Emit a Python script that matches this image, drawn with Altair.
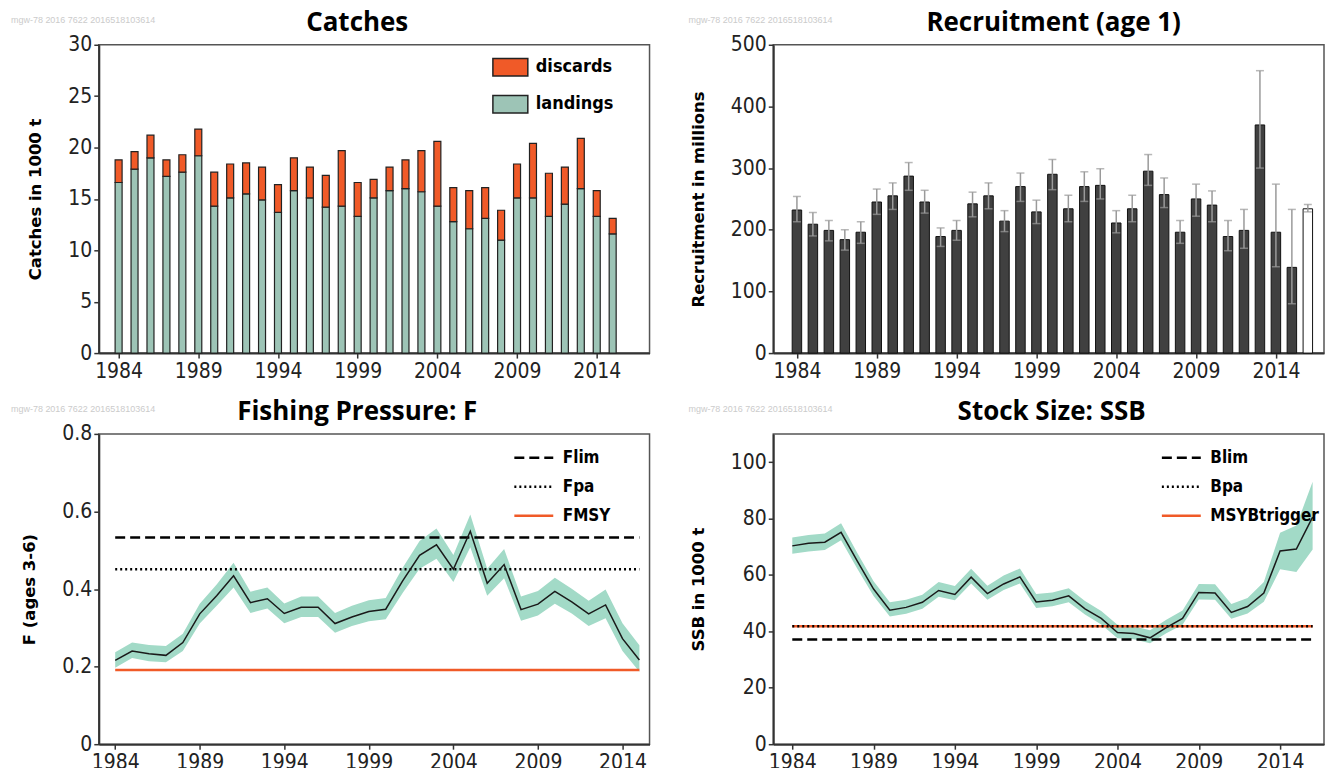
import altair as alt
import pandas as pd

# ---------------- data ----------------
YEARS_C = list(range(1984, 2016))
LANDINGS = [16.6, 17.9, 19.0, 17.2, 17.6, 19.2, 14.3, 15.1, 15.5, 14.9, 13.7, 15.8,
            15.1, 14.2, 14.3, 13.3, 15.1, 15.8, 16.0, 15.7, 14.3, 12.8, 12.1, 13.1,
            11.0, 15.1, 15.1, 13.3, 14.5, 16.0, 13.3, 11.6]
DISCARDS = [2.2, 1.7, 2.2, 1.6, 1.7, 2.6, 3.3, 3.3, 3.0, 3.2, 2.7, 3.2,
            3.0, 3.1, 5.4, 3.3, 1.8, 2.3, 2.8, 4.0, 6.3, 3.3, 3.7, 3.0,
            2.9, 3.3, 5.3, 4.2, 3.6, 4.9, 2.5, 1.5]

YEARS_R = list(range(1984, 2017))
REC = [232, 209, 199, 184, 196, 245, 255, 287, 245, 189, 199, 242, 255, 214, 270, 229,
       290, 234, 270, 272, 211, 234, 295, 257, 196, 250, 240, 189, 199, 370, 196, 139, 234]
REC_HI = [254, 228, 215, 200, 213, 266, 276, 309, 264, 203, 215, 261, 276, 231, 292, 248,
          314, 256, 294, 299, 231, 256, 322, 284, 215, 274, 263, 215, 233, 458, 274, 233, 241]
REC_LO = [213, 190, 182, 167, 178, 225, 233, 264, 227, 173, 183, 221, 234, 197, 246, 210,
          265, 213, 246, 250, 195, 213, 272, 236, 178, 222, 213, 166, 170, 300, 140, 80, 229]
REC_KIND = ["assessment"] * 32 + ["assumed"]

YEARS_F = list(range(1984, 2016))
F = [0.216, 0.240, 0.233, 0.229, 0.262, 0.336, 0.383, 0.434, 0.365, 0.375, 0.337, 0.353,
     0.353, 0.311, 0.328, 0.342, 0.348, 0.421, 0.487, 0.514, 0.451, 0.549, 0.415, 0.463,
     0.347, 0.361, 0.394, 0.367, 0.336, 0.359, 0.272, 0.217]
F_LO = [0.197, 0.222, 0.214, 0.211, 0.240, 0.311, 0.357, 0.404, 0.338, 0.350, 0.312, 0.328,
        0.328, 0.287, 0.305, 0.317, 0.322, 0.390, 0.452, 0.478, 0.418, 0.508, 0.383, 0.428,
        0.318, 0.332, 0.362, 0.337, 0.305, 0.325, 0.240, 0.187]
F_HI = [0.237, 0.262, 0.256, 0.253, 0.285, 0.362, 0.412, 0.468, 0.393, 0.404, 0.363, 0.381,
        0.381, 0.338, 0.357, 0.371, 0.377, 0.455, 0.524, 0.556, 0.488, 0.592, 0.452, 0.503,
        0.381, 0.395, 0.429, 0.401, 0.370, 0.399, 0.312, 0.255]

YEARS_S = list(range(1984, 2017))
SSB = [70.3, 71.2, 71.6, 75.1, 64.9, 55.0, 47.5, 48.5, 50.3, 54.5, 53.1, 59.2, 53.4, 56.8,
       59.3, 50.4, 51.0, 52.6, 48.0, 44.6, 39.6, 39.2, 37.7, 41.3, 44.6, 53.8, 53.6, 46.7,
       48.8, 53.6, 68.5, 69.2, 80.5]
SSB_LO = [67.5, 68.3, 68.8, 72.3, 62.2, 52.5, 45.3, 46.2, 48.0, 52.3, 51.0, 57.0, 51.2, 54.7,
          57.0, 48.3, 48.9, 50.3, 46.0, 42.4, 37.6, 37.2, 35.8, 39.3, 42.3, 51.3, 51.2, 44.5,
          46.3, 50.5, 62.0, 61.0, 69.0]
SSB_HI = [73.3, 74.2, 74.7, 78.3, 67.8, 57.8, 50.3, 51.2, 53.0, 57.5, 56.1, 62.2, 56.2, 59.8,
          62.3, 53.2, 53.8, 55.3, 50.8, 47.2, 42.3, 41.8, 40.4, 44.1, 47.4, 56.8, 56.7, 49.7,
          51.8, 57.5, 75.0, 77.5, 93.0]

F_REFS = ["Flim", "Fpa", "FMSY"]
F_REF_VALUES = [0.533, 0.451, 0.191]
B_REFS = ["Blim", "Bpa", "MSYBtrigger"]
B_REF_VALUES = [37.1, 41.8, 41.8]

XTICKS = [1984, 1989, 1994, 1999, 2004, 2009, 2014]
WATERMARK = "mgw-78  2016  7622  2016518103614"

# ---------------- styles ----------------
NARROW = "Liberation Sans Narrow, Arial Narrow, DejaVu Sans Condensed, sans-serif"
TITLE_FONT = "Open Sans"
ORANGE = "#f05a28"
TEAL = "#9dc4b6"
BAND = "#a2dac7"
DARK = "#404040"
W, H_TOP, H_BOT = 552, 309, 311


def xaxis():
    return alt.Axis(values=XTICKS, format="d", labelFlush=False)


def panel_title(text, dx):
    return alt.TitleParams(text=text, font=TITLE_FONT, fontSize=26, fontWeight="bold",
                           color="black", anchor="middle", dx=dx, offset=-20)


def watermark(dx):
    return alt.Chart(pd.DataFrame({"t": [WATERMARK]})).mark_text(
        align="left", baseline="middle", font="Liberation Sans", fontSize=9, color="#cbcbcb"
    ).encode(text="t:N", x=alt.value(dx), y=alt.value(-25))


def line_legend(x):
    return alt.Legend(title=None, orient="none", legendX=x, legendY=3, symbolType="stroke",
                      symbolSize=1521, symbolStrokeWidth=2.5, labelFont=NARROW,
                      labelFontSize=17, labelFontWeight="bold", labelColor="black",
                      labelOffset=8, rowPadding=-12, padding=0)


# ---------------- Catches ----------------
n_c = len(YEARS_C)
cdf = pd.DataFrame({
    "year": YEARS_C + YEARS_C,
    "value": LANDINGS + DISCARDS,
    "type": ["landings"] * n_c + ["discards"] * n_c,
    "stackorder": [0] * n_c + [1] * n_c,
})
catches = alt.layer(
    alt.Chart(cdf).mark_bar(size=7, stroke="#222", strokeWidth=1.2).encode(
        x=alt.X("year:Q", scale=alt.Scale(domain=[1983.07, 2017.0], nice=False, zero=False),
                axis=xaxis(), title=None),
        y=alt.Y("value:Q", stack="zero", scale=alt.Scale(domain=[0, 30], nice=False),
                axis=alt.Axis(values=[0, 5, 10, 15, 20, 25, 30]), title="Catches in 1000 t"),
        color=alt.Color("type:N", scale=alt.Scale(domain=["discards", "landings"], range=[ORANGE, TEAL]),
                        legend=alt.Legend(title=None, orient="none", legendX=394, legendY=4,
                                          symbolType="M-1,-0.5H1V0.5H-1Z", symbolSize=1225,
                                          symbolStrokeColor="#222", symbolStrokeWidth=1.5,
                                          labelFont=NARROW, labelFontSize=18, labelFontWeight="bold",
                                          labelColor="black", labelOffset=7, rowPadding=6, padding=0)),
        order=alt.Order("stackorder:Q"),
    ),
    watermark(-88),
).properties(width=W, height=H_TOP, title=panel_title("Catches", -17))

# ---------------- Recruitment ----------------
rdf = pd.DataFrame({"year": YEARS_R, "rec": REC, "hi": REC_HI, "lo": REC_LO, "kind": REC_KIND})
xr = alt.X("year:Q", scale=alt.Scale(domain=[1982.83, 2016.7], nice=False, zero=False),
           axis=xaxis(), title=None)
yr_scale = alt.Scale(domain=[0, 500], nice=False)
yr_axis = alt.Axis(values=[0, 100, 200, 300, 400, 500])
RT = "Recruitment in millions"
recruit = alt.layer(
    alt.Chart(rdf).mark_bar(size=9.5, stroke="#111", strokeWidth=1).encode(
        x=xr, y=alt.Y("rec:Q", scale=yr_scale, axis=yr_axis, title=RT),
        fill=alt.Fill("kind:N", scale=alt.Scale(domain=["assessment", "assumed"], range=[DARK, "#ffffff"]),
                      legend=None),
    ),
    alt.Chart(rdf).mark_rule(color="#9a9a9a", strokeWidth=1.5).encode(
        x=xr, y=alt.Y("lo:Q", scale=yr_scale, axis=yr_axis, title=RT), y2="hi:Q"),
    alt.Chart(rdf).mark_tick(orient="horizontal", size=8, thickness=1.5, color="#9a9a9a").encode(
        x=xr, y=alt.Y("hi:Q", scale=yr_scale, axis=yr_axis, title=RT)),
    alt.Chart(rdf).mark_tick(orient="horizontal", size=8, thickness=1.5, color="#9a9a9a").encode(
        x=xr, y=alt.Y("lo:Q", scale=yr_scale, axis=yr_axis, title=RT)),
    watermark(-85),
).properties(width=W, height=H_TOP, title=panel_title("Recruitment (age 1)", 5))

# ---------------- Fishing pressure ----------------
fdf = pd.DataFrame({"year": YEARS_F, "f": F, "lo": F_LO, "hi": F_HI})
frefs = pd.DataFrame({"ref": F_REFS, "val": F_REF_VALUES,
                      "x0": [YEARS_F[0]] * 3, "x1": [YEARS_F[-1]] * 3})
xf_scale = alt.Scale(domain=[1983.03, 2015.6], nice=False, zero=False)
xf = alt.X("year:Q", scale=xf_scale, axis=xaxis(), title=None)
yf_scale = alt.Scale(domain=[0, 0.8], nice=False)
yf_axis = alt.Axis(values=[0, 0.2, 0.4, 0.6, 0.8],
                   labelExpr="datum.value == 0 ? '0' : format(datum.value, '.1f')")
FT = "F (ages 3-6)"
fchart = alt.layer(
    alt.Chart(fdf).mark_area(color=BAND, opacity=1).encode(
        x=xf, y=alt.Y("lo:Q", scale=yf_scale, axis=yf_axis, title=FT), y2="hi:Q"),
    alt.Chart(frefs).mark_rule(strokeWidth=2.5).encode(
        x=alt.X("x0:Q", scale=xf_scale, axis=xaxis(), title=None),
        x2="x1:Q",
        y=alt.Y("val:Q", scale=yf_scale, axis=yf_axis, title=FT),
        color=alt.Color("ref:N", scale=alt.Scale(domain=F_REFS, range=["black", "black", ORANGE]),
                        legend=line_legend(415)),
        strokeDash=alt.StrokeDash("ref:N", scale=alt.Scale(domain=F_REFS, range=[[10, 5], [2, 3], [1, 0]]),
                                  legend=line_legend(415)),
    ),
    alt.Chart(fdf).mark_line(color="#1a1a1a", strokeWidth=1.5).encode(
        x=xf, y=alt.Y("f:Q", scale=yf_scale, axis=yf_axis, title=FT)),
    watermark(-88),
).properties(width=W, height=H_BOT, title=panel_title("Fishing Pressure: F", -17))

# ---------------- SSB ----------------
sdf = pd.DataFrame({"year": YEARS_S, "ssb": SSB, "lo": SSB_LO, "hi": SSB_HI})
brefs = pd.DataFrame({"ref": ["MSYBtrigger", "Bpa", "Blim"],
                      "val": [B_REF_VALUES[2], B_REF_VALUES[1], B_REF_VALUES[0]],
                      "x0": [YEARS_S[0]] * 3, "x1": [YEARS_S[-1]] * 3})
xs_scale = alt.Scale(domain=[1982.83, 2016.7], nice=False, zero=False)
xs = alt.X("year:Q", scale=xs_scale, axis=xaxis(), title=None)
ys_scale = alt.Scale(domain=[0, 110], nice=False)
ys_axis = alt.Axis(values=[0, 20, 40, 60, 80, 100])
ST = "SSB in 1000 t"
schart = alt.layer(
    alt.Chart(sdf).mark_area(color=BAND, opacity=1).encode(
        x=xs, y=alt.Y("lo:Q", scale=ys_scale, axis=ys_axis, title=ST), y2="hi:Q"),
    alt.Chart(brefs).mark_rule(strokeWidth=2.5).encode(
        x=alt.X("x0:Q", scale=xs_scale, axis=xaxis(), title=None),
        x2="x1:Q",
        y=alt.Y("val:Q", scale=ys_scale, axis=ys_axis, title=ST),
        color=alt.Color("ref:N", scale=alt.Scale(domain=B_REFS, range=["black", "black", ORANGE]),
                        legend=line_legend(388)),
        strokeDash=alt.StrokeDash("ref:N", scale=alt.Scale(domain=B_REFS, range=[[10, 5], [2, 3], [1, 0]]),
                                  legend=line_legend(388)),
    ),
    alt.Chart(sdf).mark_line(color="#1a1a1a", strokeWidth=1.5).encode(
        x=xs, y=alt.Y("ssb:Q", scale=ys_scale, axis=ys_axis, title=ST)),
    watermark(-85),
).properties(width=W, height=H_BOT, title=panel_title("Stock Size: SSB", 3))

chart = alt.concat(
    catches, recruit, fchart, schart, columns=2, spacing={"row": 16, "column": 37}
).resolve_scale(
    color="independent", fill="independent", strokeDash="independent",
    x="independent", y="independent"
).resolve_legend(
    color="independent", fill="independent", strokeDash="independent"
).properties(
    padding={"left": 2, "top": 0, "right": 0, "bottom": -6}, background="white"
).configure_view(
    stroke="#555", strokeWidth=1.5
).configure_axis(
    domainColor="#333", domainWidth=2, tickColor="#333", tickWidth=1.5, tickSize=5,
    labelFont=NARROW, labelFontSize=21, labelColor="#222", labelPadding=2,
    titleFont="DejaVu Sans", titleFontSize=16.5, titleFontWeight="bold", titleColor="black",
    titlePadding=24, grid=False
)

chart.save("out.html", embed_options={"renderer": "svg", "actions": False})
